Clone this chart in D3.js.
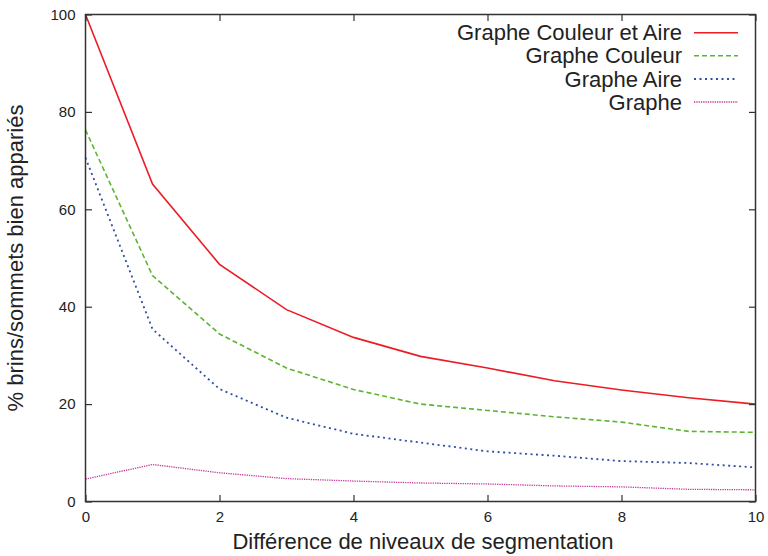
<!DOCTYPE html>
<html>
<head>
<meta charset="utf-8">
<script src="https://cdn.jsdelivr.net/npm/d3@7"></script>
<style>
  html, body { margin: 0; padding: 0; background: #fff; }
  svg { display: block; font-family: "Liberation Sans", Arial, Helvetica, sans-serif; }
</style>
</head>
<body>
<svg id="chart" width="768" height="556"></svg>
<script>
// ---- Data ----
const levels = [0, 1, 2, 3, 4, 5, 6, 7, 8, 9, 10];
const seriesNames = ["Graphe Couleur et Aire", "Graphe Couleur", "Graphe Aire", "Graphe"];
const couleurAire = [100, 65.2, 48.7, 39.4, 33.7, 29.8, 27.4, 24.8, 22.9, 21.3, 20.0];
const couleur     = [76.3, 46.4, 34.4, 27.4, 23.0, 20.0, 18.7, 17.4, 16.3, 14.4, 14.2];
const aire        = [70.6, 35.4, 23.1, 17.2, 13.9, 12.1, 10.3, 9.4, 8.3, 7.9, 7.0];
const graphe      = [4.6, 7.6, 5.9, 4.7, 4.2, 3.8, 3.6, 3.2, 3.0, 2.5, 2.4];
const xTicks = [0, 2, 4, 6, 8, 10];
const yTicks = [0, 20, 40, 60, 80, 100];
const xTitle = "Différence de niveaux de segmentation";
const yTitle = "% brins/sommets bien appariés";

// ---- Styles ----
const styles = [
  { color: "#ec1c24", width: 1.6, dash: null },
  { color: "#5cb531", width: 1.6, dash: "5,3" },
  { color: "#2f4fa5", width: 1.8, dash: "2,3.5" },
  { color: "#c8399c", width: 1.3, dash: "1.3,1" }
];
const allSeries = [couleurAire, couleur, aire, graphe];

const svg = d3.select("#chart");
const m = { left: 85.5, right: 12.5, top: 14.5, bottom: 54.5 };
const W = 768, H = 556;
const x = d3.scaleLinear().domain([0, 10]).range([m.left, W - m.right]);
const y = d3.scaleLinear().domain([0, 100]).range([H - m.bottom, m.top]);
const txt = "#222";
const axCol = "#333";
const tickLen = 6.5;

// lines
const line = d3.line().x((d, i) => x(levels[i])).y(d => y(d));
allSeries.forEach((s, k) => {
  svg.append("path").datum(s)
    .attr("d", line)
    .attr("fill", "none")
    .attr("stroke", styles[k].color)
    .attr("stroke-width", styles[k].width)
    .attr("stroke-dasharray", styles[k].dash);
});

// axes (inward ticks, mirrored)
const axB = d3.axisBottom(x).tickValues(xTicks).tickSize(-tickLen).tickPadding(10).tickFormat(d3.format("d"));
const axT = d3.axisTop(x).tickValues(xTicks).tickSize(-tickLen).tickFormat("");
const axL = d3.axisLeft(y).tickValues(yTicks).tickSize(-tickLen).tickPadding(10).tickFormat(d3.format("d"));
const axR = d3.axisRight(y).tickValues(yTicks).tickSize(-tickLen).tickFormat("");

function style(g) {
  g.select(".domain").remove();
  g.selectAll(".tick line").attr("stroke", axCol).attr("stroke-width", 1.2);
  g.selectAll(".tick text").attr("fill", txt).style("font-size", "15px")
    .style("font-family", '"Liberation Sans", Arial, sans-serif');
}
svg.append("g").attr("transform", `translate(0,${y(0)})`).call(axB).call(style);
svg.append("g").attr("transform", `translate(0,${y(100)})`).call(axT).call(style);
svg.append("g").attr("transform", `translate(${x(0)},0)`).call(axL).call(style);
svg.append("g").attr("transform", `translate(${x(10)},0)`).call(axR).call(style);

// frame
svg.append("rect")
  .attr("x", x(0)).attr("y", y(100))
  .attr("width", x(10) - x(0)).attr("height", y(0) - y(100))
  .attr("fill", "none").attr("stroke", axCol).attr("stroke-width", 1.5);

// titles
svg.append("text").attr("x", 423).attr("y", 549)
  .attr("text-anchor", "middle").attr("fill", txt).style("font-size", "22px").text(xTitle);
svg.append("text")
  .attr("transform", `translate(23,${(y(0) + y(100)) / 2}) rotate(-90)`)
  .attr("text-anchor", "middle").attr("fill", txt).style("font-size", "22px").text(yTitle);

// legend
const legRows = [32.7, 55.7, 79, 102];
seriesNames.forEach((name, k) => {
  const ly = legRows[k];
  svg.append("text").attr("x", 682).attr("y", ly).attr("dy", "0.35em")
    .attr("text-anchor", "end").attr("fill", txt).style("font-size", "22px").text(name);
  svg.append("line").attr("x1", 694).attr("x2", 738).attr("y1", ly).attr("y2", ly)
    .attr("stroke", styles[k].color).attr("stroke-width", styles[k].width)
    .attr("stroke-dasharray", styles[k].dash);
});
</script>
</body>
</html>
